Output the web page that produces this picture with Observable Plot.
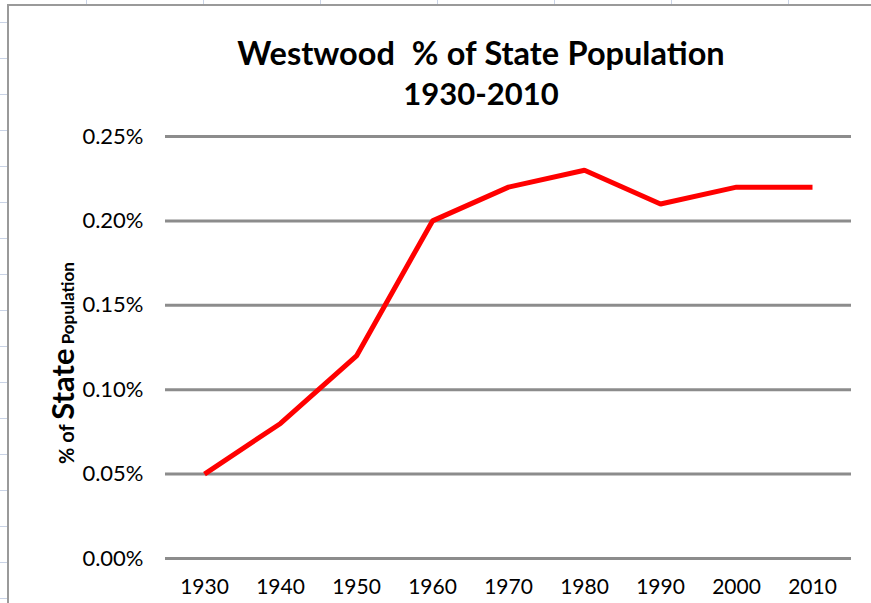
<!DOCTYPE html>
<html>
<head>
<meta charset="utf-8">
<script src="https://cdn.jsdelivr.net/npm/d3@7"></script>
<script src="https://cdn.jsdelivr.net/npm/@observablehq/plot@0.6"></script>
<style>
  html, body { margin: 0; padding: 0; background: #fff; }
  #page {
    position: relative; width: 871px; height: 603px; overflow: hidden;
    background-color: #fff;
    background-image:
      linear-gradient(to right, #c9d3e6 1px, transparent 1px),
      linear-gradient(to bottom, #c9d3e6 1px, transparent 1px);
    background-size: 117px 100%, 100% 36px;
    background-position: 86px 0, 0 22px;
    font-family: Lato, "Open Sans", sans-serif;
  }
  #frame {
    position: absolute; left: 7px; top: 4px; width: 880px; height: 620px;
    background: #fff; border: 2px solid #9a9a9a; box-sizing: border-box;
  }
  #chart { position: absolute; left: 0; top: 0; }
  #title {
    position: absolute; left: 180px; width: 602px; top: 33px; text-align: center;
    font-weight: bold; font-size: 31px; line-height: 40px; color: #000;
  }
  #title .l1 { font-size: 32.5px; word-spacing: 0.5px; }
  #ylabel {
    position: absolute; left: 62px; top: 363px; transform: translate(-50%, -50%) rotate(-90deg);
    white-space: nowrap; font-weight: bold; color: #000; line-height: 1;
  }
</style>
</head>
<body>
<div id="page">
  <div id="frame"></div>
  <div id="chart"></div>
  <div id="title"><span class="l1">Westwood&nbsp; % of State Population</span><br>1930-2010</div>
  <div id="ylabel"><span style="font-size:20px">% of </span><span style="font-size:31px">State</span><span style="font-size:17px"> Population</span></div>
</div>
<script>
const years = ["1930", "1940", "1950", "1960", "1970", "1980", "1990", "2000", "2010"];
const shares = [0.0005, 0.0008, 0.0012, 0.0020, 0.0022, 0.0023, 0.0021, 0.0022, 0.0022];
const yTicks = [0, 0.0005, 0.0010, 0.0015, 0.0020, 0.0025];

const data = years.map((year, i) => ({year, value: shares[i]}));

const chart = Plot.plot({
  width: 871,
  height: 603,
  marginLeft: 165,
  marginRight: 20,
  marginTop: 136,
  marginBottom: 45,
  style: {background: "transparent", fontFamily: "Lato, 'Open Sans', sans-serif", color: "#000"},
  x: {type: "point", domain: years, padding: 0.5},
  y: {domain: [0, 0.0025]},
  marks: [
    Plot.ruleY(yTicks, {stroke: "#8c8c8c", strokeWidth: 3}),
    Plot.axisY({ticks: yTicks, tickFormat: d3.format(".2%"), label: null, tickSize: 0, tickPadding: 22, fontSize: 22}),
    Plot.axisX({label: null, tickSize: 0, tickPadding: 21, fontSize: 21}),
    Plot.line(data, {x: "year", y: "value", stroke: "#ff0000", strokeWidth: 5, strokeLinejoin: "miter", strokeLinecap: "butt"})
  ]
});
document.getElementById("chart").appendChild(chart);
</script>
</body>
</html>
